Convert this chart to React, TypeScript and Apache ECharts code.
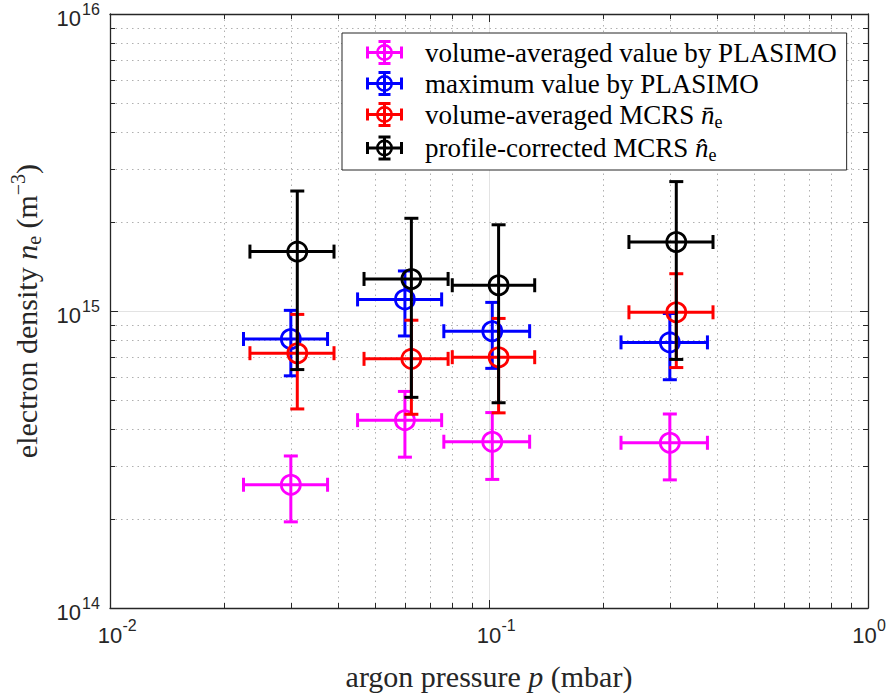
import React, { useEffect, useRef } from "react";
import * as echarts from "echarts";

// ---------- data ----------
const seriesNames = [
  "volume-averaged value by PLASIMO",
  "maximum value by PLASIMO",
  "volume-averaged MCRS n\u0304e",
  "profile-corrected MCRS n\u0302e",
];
const seriesColors = ["#ff00ff", "#0000ff", "#ff0000", "#000000"];

// argon pressure (mbar)
const pressurePlasimo = [0.03, 0.06, 0.102, 0.3];
const pressurePlasimoErr = [0.0075, 0.015, 0.026, 0.077];
const pressureMcrs = [0.0312, 0.0624, 0.106, 0.312];
const pressureMcrsErr = [0.0078, 0.0156, 0.026, 0.078];

// electron density (m^-3)
const neVolAvgPlasimo = [2.6e14, 4.29e14, 3.63e14, 3.6e14];
const neVolAvgPlasimoErr = [0.65e14, 1.07e14, 0.92e14, 0.9e14];
const neMaxPlasimo = [8.05e14, 1.094e15, 8.55e14, 7.84e14];
const neMaxPlasimoErr = [2.0e14, 2.7e14, 2.14e14, 1.97e14];
const neVolAvgMcrs = [7.21e14, 6.9e14, 6.99e14, 9.9e14];
const neVolAvgMcrsErr = [2.53e14, 2.41e14, 2.45e14, 3.45e14];
const neCorrMcrs = [1.585e15, 1.282e15, 1.221e15, 1.707e15];
const neCorrMcrsErr = [0.95e15, 0.77e15, 0.73e15, 1.02e15];

// axes
const xRange = [0.01, 1];
const yRange = [1e14, 1e16];
const xMajorTicks = [0.01, 0.1, 1];
const yMajorTicks = [1e14, 1e15, 1e16];
const xMinorTicks = [0.02, 0.03, 0.04, 0.05, 0.06, 0.07, 0.08, 0.09, 0.2, 0.3, 0.4, 0.5, 0.6, 0.7, 0.8, 0.9];
const yMinorTicks = [
  2e14, 3e14, 4e14, 5e14, 6e14, 7e14, 8e14, 9e14,
  2e15, 3e15, 4e15, 5e15, 6e15, 7e15, 8e15, 9e15,
];

const SERIF = "'Liberation Serif', 'Times New Roman', serif";
const SANS = "'Liberation Sans', Arial, Helvetica, sans-serif";
const AXIS_COLOR = "#262626";
const CHART_W = 887;

// legend icon: error-bar cross with open circle (37 x 25 box)
const ICON =
  "path://M1.5 11 H35.5 V14 H1.5 Z " +
  "M0 6.5 H3 V18.5 H0 Z M34 6.5 H37 V18.5 H34 Z " +
  "M17 1.5 H20 V23.5 H17 Z " +
  "M12.5 0 H24.5 V3 H12.5 Z M12.5 22 H24.5 V25 H12.5 Z " +
  "M27 12.5 A8.5 8.5 0 1 1 10 12.5 A8.5 8.5 0 1 1 27 12.5 Z " +
  "M24.5 12.5 A6 6 0 1 0 12.5 12.5 A6 6 0 1 0 24.5 12.5 Z";

function errorSeries(
  name: string,
  color: string,
  xs: number[],
  xErr: number[],
  ys: number[],
  yErr: number[],
  z: number
) {
  const data = xs.map((x, i) => [x, ys[i], x - xErr[i], x + xErr[i], ys[i] - yErr[i], ys[i] + yErr[i]]);
  return {
    type: "custom",
    name,
    z,
    itemStyle: { color },
    encode: { x: [0, 2, 3], y: [1, 4, 5] },
    data,
    renderItem: (params: any, api: any) => {
      const x = api.value(0);
      const y = api.value(1);
      const c = api.coord([x, y]);
      const l = api.coord([api.value(2), y]);
      const r = api.coord([api.value(3), y]);
      const b = api.coord([x, api.value(4)]);
      const t = api.coord([x, api.value(5)]);
      const st = { stroke: color, lineWidth: 3, fill: "none" };
      const cap = 7;
      const line = (x1: number, y1: number, x2: number, y2: number) => ({
        type: "line",
        shape: { x1, y1, x2, y2 },
        style: st,
      });
      return {
        type: "group",
        children: [
          line(l[0], c[1], r[0], c[1]),
          line(l[0], c[1] - cap, l[0], c[1] + cap),
          line(r[0], c[1] - cap, r[0], c[1] + cap),
          line(c[0], t[1], c[0], b[1]),
          line(c[0] - cap, t[1], c[0] + cap, t[1]),
          line(c[0] - cap, b[1], c[0] + cap, b[1]),
          {
            type: "circle",
            shape: { cx: c[0], cy: c[1], r: 9.5 },
            style: { stroke: color, lineWidth: 2.8, fill: "none" },
          },
        ],
      };
    },
  };
}

const expOf = (v: number) => Math.round(Math.log10(v));

// minor grid lines, minor ticks and the "10^n" tick labels, all placed through the axes' scales
function decorSeries() {
  const data = [
    ...xMinorTicks.map((v) => [v, 1e15, 0]),
    ...yMinorTicks.map((v) => [0.1, v, 1]),
    ...xMajorTicks.map((v) => [v, 1e15, 2]),
    ...yMajorTicks.map((v) => [0.1, v, 3]),
  ];
  return {
    type: "custom",
    name: "__decor",
    silent: true,
    z: 1,
    clip: false,
    encode: { x: 0, y: 1 },
    data,
    renderItem: (params: any, api: any) => {
      const cs = params.coordSys;
      const kind = api.value(2);
      const p = api.coord([api.value(0), api.value(1)]);
      const grid = { stroke: "#b0b0b0", lineWidth: 1, lineDash: [1.5, 4], fill: "none" };
      const tick = { stroke: AXIS_COLOR, lineWidth: 1, fill: "none" };
      const tl = 5;
      const txt = (x: number, y: number, text: string, size: number, align: string) => ({
        type: "text",
        x,
        y,
        style: {
          text,
          fontFamily: SANS,
          fontSize: size,
          fill: AXIS_COLOR,
          align,
          verticalAlign: "middle",
        },
      });
      if (kind === 2) {
        const e = String(expOf(api.value(0)));
        const by = cs.y + cs.height + 27;
        const supW = e.length * 8.9;
        const shift = Math.max(0, p[0] + 12.5 + supW - (CHART_W - 1));
        const cx = p[0] - shift;
        return {
          type: "group",
          children: [txt(cx, by, "10", 22, "center"), txt(cx + 12.5, by - 10, e, 16, "left")],
        };
      }
      if (kind === 3) {
        const e = String(expOf(api.value(1)));
        const lx = cs.x - 29;
        return {
          type: "group",
          children: [txt(lx, p[1] + 4.5, "10", 22, "right"), txt(lx + 1, p[1] - 5, e, 16, "left")],
        };
      }
      if (kind === 0) {
        const x = Math.round(p[0]) + 0.5;
        const y0 = cs.y;
        const y1 = cs.y + cs.height;
        return {
          type: "group",
          children: [
            { type: "line", shape: { x1: x, y1: y0, x2: x, y2: y1 }, style: grid },
            { type: "line", shape: { x1: x, y1: y1 - tl, x2: x, y2: y1 }, style: tick },
            { type: "line", shape: { x1: x, y1: y0, x2: x, y2: y0 + tl }, style: tick },
          ],
        };
      }
      const y = Math.round(p[1]) + 0.5;
      const x0 = cs.x;
      const x1 = cs.x + cs.width;
      return {
        type: "group",
        children: [
          { type: "line", shape: { x1: x0, y1: y, x2: x1, y2: y }, style: grid },
          { type: "line", shape: { x1: x0, y1: y, x2: x0 + tl, y2: y }, style: tick },
          { type: "line", shape: { x1: x1 - tl, y1: y, x2: x1, y2: y }, style: tick },
        ],
      };
    },
  };
}

const legendRich = {
  t: { fontFamily: SERIF, fontSize: 27, lineHeight: 32, color: "#000", verticalAlign: "middle" },
  i: { fontFamily: SERIF, fontSize: 27, lineHeight: 32, color: "#000", fontStyle: "italic", verticalAlign: "middle" },
  sub: { fontFamily: SERIF, fontSize: 18, lineHeight: 18, color: "#000", verticalAlign: "bottom" },
};

function legendLabel(name: string) {
  if (name === seriesNames[2]) return "{t|volume-averaged MCRS }{i|n\u0304}{sub|e}";
  if (name === seriesNames[3]) return "{t|profile-corrected MCRS }{i|n\u0302}{sub|e}";
  return "{t|" + name + "}";
}

const nameRich = {
  t: { fontFamily: SERIF, fontSize: 30, lineHeight: 36, color: AXIS_COLOR, verticalAlign: "middle" },
  i: { fontFamily: SERIF, fontSize: 30, lineHeight: 36, color: AXIS_COLOR, fontStyle: "italic", verticalAlign: "middle" },
  sub: { fontFamily: SERIF, fontSize: 20, lineHeight: 20, color: AXIS_COLOR, verticalAlign: "bottom" },
  sup: { fontFamily: SERIF, fontSize: 20, lineHeight: 20, color: AXIS_COLOR, verticalAlign: "top" },
};

export default function App() {
  const ref = useRef<HTMLDivElement>(null);

  useEffect(() => {
    document.body.style.margin = "0";
    if (!ref.current) return;
    const chart = echarts.init(ref.current, undefined, { renderer: "svg" });

    const axisLine = { show: true, lineStyle: { color: AXIS_COLOR, width: 1.3 } };
    const majorTick = { show: true, inside: true, length: 8, lineStyle: { color: AXIS_COLOR, width: 1 } };

    chart.setOption({
      animation: false,
      backgroundColor: "#ffffff",
      grid: { left: 107, top: 14, right: 19, bottom: 83, containLabel: false },
      xAxis: [
        {
          type: "log",
          logBase: 10,
          min: xRange[0],
          max: xRange[1],
          position: "bottom",
          axisLine,
          axisTick: majorTick,
          splitLine: { show: true, lineStyle: { color: "#e3e3e3", width: 1 } },
          axisLabel: { show: false },
          name: "{t|argon pressure }{i|p}{t| (mbar)}",
          nameLocation: "middle",
          nameGap: 50,
          nameTextStyle: { rich: nameRich },
        },
        {
          type: "log",
          logBase: 10,
          min: xRange[0],
          max: xRange[1],
          position: "top",
          axisLine,
          axisTick: majorTick,
          axisLabel: { show: false },
          splitLine: { show: false },
        },
      ],
      yAxis: [
        {
          type: "log",
          logBase: 10,
          min: yRange[0],
          max: yRange[1],
          position: "left",
          axisLine,
          axisTick: majorTick,
          splitLine: { show: true, lineStyle: { color: "#e3e3e3", width: 1 } },
          axisLabel: { show: false },
          name: "{t|electron density }{i|n}{sub|e}{t| (m}{sup|\u22123}{t|)}",
          nameLocation: "middle",
          nameRotate: 90,
          nameGap: 66,
          nameTextStyle: { rich: nameRich },
        },
        {
          type: "log",
          logBase: 10,
          min: yRange[0],
          max: yRange[1],
          position: "right",
          axisLine,
          axisTick: majorTick,
          axisLabel: { show: false },
          splitLine: { show: false },
        },
      ],
      legend: {
        orient: "vertical",
        left: 342,
        top: 33,
        itemWidth: 37,
        itemHeight: 25,
        itemGap: 4,
        padding: [6, 10, 6, 24],
        backgroundColor: "#ffffff",
        borderColor: AXIS_COLOR,
        borderWidth: 1,
        borderRadius: 0,
        selectedMode: false,
        data: seriesNames.map((n) => ({ name: n, icon: ICON })),
        itemStyle: { borderWidth: 0 },
        formatter: legendLabel,
        textStyle: {
          fontFamily: SERIF,
          fontSize: 27,
          color: "#000",
          width: 412,
          padding: [0, 0, 0, 17],
          rich: legendRich,
        },
      },
      series: [
        decorSeries(),
        errorSeries(seriesNames[0], seriesColors[0], pressurePlasimo, pressurePlasimoErr, neVolAvgPlasimo, neVolAvgPlasimoErr, 2),
        errorSeries(seriesNames[1], seriesColors[1], pressurePlasimo, pressurePlasimoErr, neMaxPlasimo, neMaxPlasimoErr, 3),
        errorSeries(seriesNames[2], seriesColors[2], pressureMcrs, pressureMcrsErr, neVolAvgMcrs, neVolAvgMcrsErr, 4),
        errorSeries(seriesNames[3], seriesColors[3], pressureMcrs, pressureMcrsErr, neCorrMcrs, neCorrMcrsErr, 5),
      ],
    });

    return () => chart.dispose();
  }, []);

  return <div ref={ref} style={{ width: CHART_W, height: 696 }} />;
}
